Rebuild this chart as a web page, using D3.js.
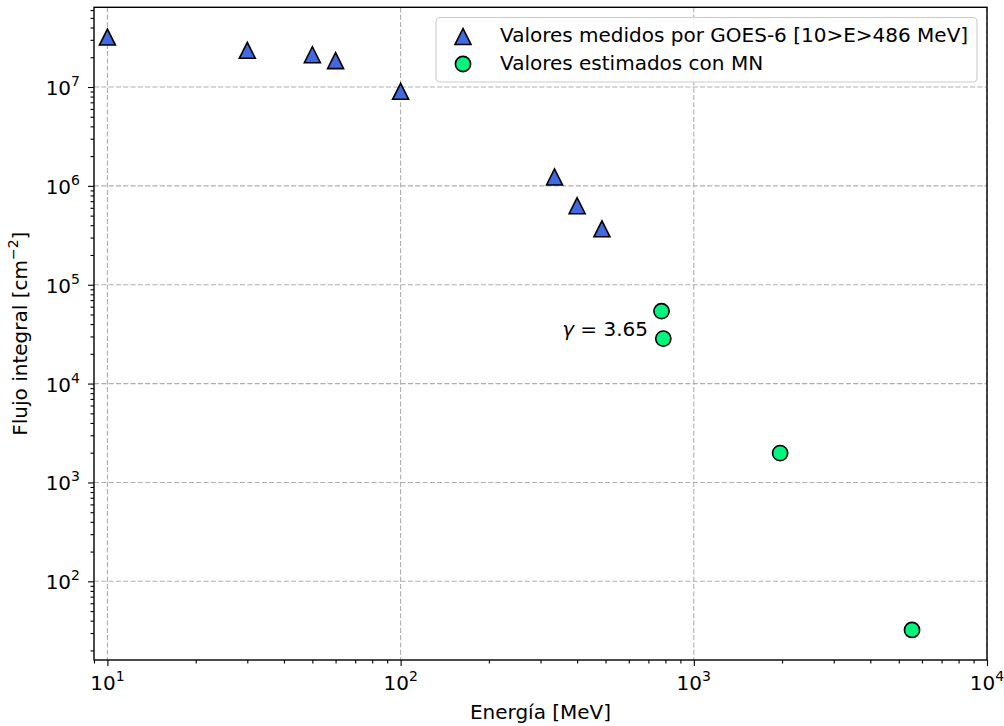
<!DOCTYPE html>
<html>
<head>
<meta charset="utf-8">
<script src="https://cdn.jsdelivr.net/npm/d3@7"></script>
<style>
  body { margin: 0; background: #fff; }
  svg text { font-family: "DejaVu Sans", sans-serif; }
</style>
</head>
<body>
<div id="chart"></div>
<script>
// Dades llegides del gràfic
const goesEnergy = [10, 30, 50, 60, 100, 335, 400, 486];
const goesFlux = [3.2e7, 2.35e7, 2.12e7, 1.85e7, 9.05e6, 1.23e6, 6.3e5, 3.68e5];
const mnEnergy = [776, 787, 1970, 5550];
const mnFlux = [5.4e4, 2.85e4, 1980, 32.2];
const xTickExp = [1, 2, 3, 4];
const yTickExp = [2, 3, 4, 5, 6, 7];
const legendLabels = ["Valores medidos por GOES-6 [10>E>486 MeV]", "Valores estimados con MN"];

const W = 1004, H = 726;
const m = { left: 94, right: 987, top: 7.3, bottom: 660 };
const fs = 20;

const svg = d3.select("#chart").append("svg")
    .attr("width", W).attr("height", H);

const x = d3.scaleLog().domain([9, 1e4]).range([m.left, m.right]);
const y = d3.scaleLog().domain([16, 6.4e7]).range([m.bottom, m.top]);

// Graella
const grid = svg.append("g")
    .attr("stroke", "#b0b0b0").attr("stroke-width", 1.1)
    .attr("stroke-dasharray", "5.1,2.2");
xTickExp.forEach(e => {
    grid.append("line")
        .attr("x1", x(10 ** e)).attr("x2", x(10 ** e))
        .attr("y1", m.top).attr("y2", m.bottom);
});
yTickExp.forEach(e => {
    grid.append("line")
        .attr("x1", m.left).attr("x2", m.right)
        .attr("y1", y(10 ** e)).attr("y2", y(10 ** e));
});

// Eixos
const xMinor = [];
for (let e = 0; e <= 3; e++) for (let k = 2; k <= 9; k++) {
    const v = k * 10 ** e;
    if (v >= 9 && v <= 1e4) xMinor.push(v);
}
const yMinor = [];
for (let e = 1; e <= 7; e++) for (let k = 2; k <= 9; k++) {
    const v = k * 10 ** e;
    if (v >= 16 && v <= 6.4e7) yMinor.push(v);
}

const gx = svg.append("g").attr("transform", `translate(0,${m.bottom})`);
gx.call(d3.axisBottom(x).tickValues(xTickExp.map(e => 10 ** e)).tickSize(6).tickFormat(""));
gx.append("g").call(d3.axisBottom(x).tickValues(xMinor).tickSize(3.5).tickFormat(""));
const gy = svg.append("g").attr("transform", `translate(${m.left},0)`);
gy.call(d3.axisLeft(y).tickValues(yTickExp.map(e => 10 ** e)).tickSize(6).tickFormat(""));
gy.append("g").call(d3.axisLeft(y).tickValues(yMinor).tickSize(3.5).tickFormat(""));
svg.selectAll(".domain").remove();
svg.selectAll(".tick line").attr("stroke", "#000").attr("stroke-width", 1.1);

// Marc
svg.append("rect")
    .attr("x", m.left).attr("y", m.top)
    .attr("width", m.right - m.left).attr("height", m.bottom - m.top)
    .attr("fill", "none").attr("stroke", "#000").attr("stroke-width", 1.4);

// Etiquetes de les marques amb superíndex
function powLabel(sel, e) {
    sel.append("tspan").text("10");
    sel.append("tspan").attr("dy", -9).attr("font-size", fs * 0.7).text(e);
}
xTickExp.forEach(e => {
    const t = svg.append("text")
        .attr("x", x(10 ** e)).attr("y", 690)
        .attr("text-anchor", "middle").attr("font-size", fs).attr("fill", "#000");
    powLabel(t, e);
});
yTickExp.forEach(e => {
    const t = svg.append("text")
        .attr("x", 80).attr("y", y(10 ** e) + 8)
        .attr("text-anchor", "end").attr("font-size", fs).attr("fill", "#000");
    powLabel(t, e);
});

// Títols dels eixos
svg.append("text")
    .attr("x", (m.left + m.right) / 2).attr("y", 719)
    .attr("text-anchor", "middle").attr("font-size", fs)
    .text("Energía [MeV]");
const yl = svg.append("text")
    .attr("transform", `translate(27,${(m.top + m.bottom) / 2}) rotate(-90)`)
    .attr("text-anchor", "middle").attr("font-size", fs);
yl.append("tspan").text("Flujo integral [cm");
yl.append("tspan").attr("dy", -9).attr("font-size", fs * 0.7).text("−2");
yl.append("tspan").attr("dy", 9).text("]");

// Marcadors
const tri = d3.symbol().type({
    draw(ctx) {
        const h = 8;
        ctx.moveTo(0, -h); ctx.lineTo(-h, h); ctx.lineTo(h, h); ctx.closePath();
    }
})();
svg.append("g").selectAll("path")
    .data(goesEnergy.map((e, i) => [e, goesFlux[i]]))
    .join("path")
    .attr("d", tri)
    .attr("transform", d => `translate(${x(d[0])},${y(d[1])})`)
    .attr("fill", "#4169e1").attr("stroke", "#000").attr("stroke-width", 1.6);

svg.append("g").selectAll("circle")
    .data(mnEnergy.map((e, i) => [e, mnFlux[i]]))
    .join("circle")
    .attr("cx", d => x(d[0])).attr("cy", d => y(d[1])).attr("r", 7.6)
    .attr("fill", "#00f57f").attr("stroke", "#000").attr("stroke-width", 1.6);

// Anotació
const ann = svg.append("text")
    .attr("x", 648).attr("y", 336)
    .attr("text-anchor", "end").attr("font-size", fs);
ann.append("tspan").attr("font-style", "italic").text("γ");
ann.append("tspan").text(" = 3.65");

// Llegenda
const lg = svg.append("g");
lg.append("rect")
    .attr("x", 436).attr("y", 17.5).attr("width", 541).attr("height", 64.5)
    .attr("rx", 4).attr("fill", "#fff").attr("fill-opacity", 0.8)
    .attr("stroke", "#cccccc").attr("stroke-width", 1.1);
lg.append("path").attr("d", tri)
    .attr("transform", "translate(463,36.5)")
    .attr("fill", "#4169e1").attr("stroke", "#000").attr("stroke-width", 1.6);
lg.append("circle").attr("cx", 463).attr("cy", 64).attr("r", 7.6)
    .attr("fill", "#00f57f").attr("stroke", "#000").attr("stroke-width", 1.6);
legendLabels.forEach((l, i) => {
    lg.append("text")
        .attr("x", 500).attr("y", 42 + i * 27.5)
        .attr("font-size", fs).text(l);
});
</script>
</body>
</html>
